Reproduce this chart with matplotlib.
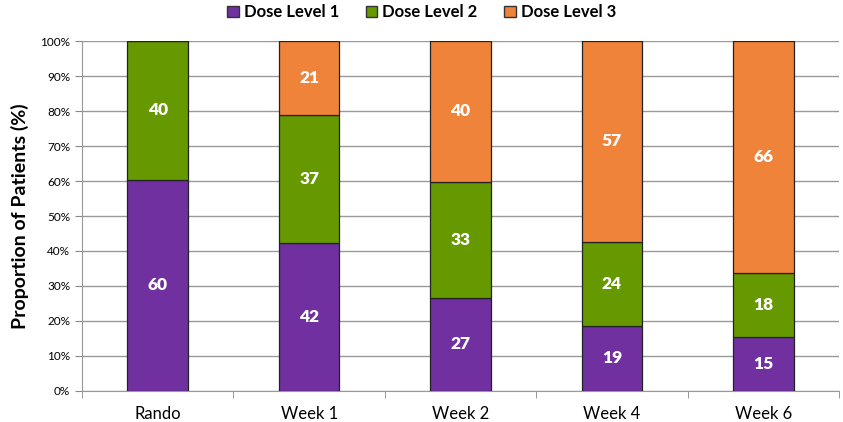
import matplotlib
matplotlib.use("Agg")
import matplotlib.pyplot as plt
import numpy as np
from matplotlib.patches import Patch

categories = ["Rando", "Week 1", "Week 2", "Week 4", "Week 6"]
series_names = ["Dose Level 1", "Dose Level 2", "Dose Level 3"]
dose1 = [60.4, 42.3, 26.6, 18.7, 15.4]
dose2 = [39.6, 36.6, 33.2, 24.0, 18.2]
dose3 = [0.0, 21.1, 40.2, 57.3, 66.4]
labels1 = [60, 42, 27, 19, 15]
labels2 = [40, 37, 33, 24, 18]
labels3 = [None, 21, 40, 57, 66]
colors = ["#7030A0", "#669900", "#F0833A"]

plt.rcParams['font.family'] = ['Lato', 'DejaVu Sans']

fig = plt.figure(figsize=(8.43, 4.22), dpi=100)
ax = fig.add_axes([0.0973, 0.0735, 0.898, 0.8293])

x = np.arange(len(categories))
w = 0.4
bottoms = np.zeros(len(categories))
for vals, labs, c in zip([dose1, dose2, dose3], [labels1, labels2, labels3], colors):
    vals = np.array(vals)
    ax.bar(x, vals, w, bottom=bottoms, color=c, edgecolor="#222222", linewidth=0.9, zorder=3)
    for xi, v, b, lab in zip(x, vals, bottoms, labs):
        if lab is not None and v > 0:
            ax.text(xi, b + v / 2, str(lab), ha="center", va="center", color="white",
                    fontsize=12.5, fontweight="heavy", zorder=4)
    bottoms = bottoms + vals

ax.set_xlim(-0.5, len(categories) - 0.5)
ax.set_ylim(0, 100)
ax.set_yticks(np.arange(0, 101, 10))
ax.set_yticklabels([f"{v}%" for v in range(0, 101, 10)], fontsize=8.5)
ax.set_xticks(x)
ax.set_xticklabels(categories, fontsize=12)
ax.set_xticks(np.arange(-0.5, len(categories), 1), minor=True)
ax.tick_params(axis="x", which="major", length=0, pad=11)
ax.tick_params(axis="x", which="minor", length=5, color="#888888", direction="out")
ax.tick_params(axis="y", length=5, color="#888888", direction="out")
ax.yaxis.grid(True, color="#999999", linewidth=1.0, zorder=0)
ax.set_axisbelow(True)
for s in ["top", "right"]:
    ax.spines[s].set_visible(False)
ax.spines["left"].set_color("#999999")
ax.spines["bottom"].set_color("#999999")
ax.set_ylabel("Proportion of Patients (%)", fontsize=14, fontweight="bold", labelpad=8)

handles = [Patch(facecolor=c, edgecolor="#333333", label=n) for c, n in zip(colors, series_names)]
fig.legend(handles=handles, loc="upper center", bbox_to_anchor=(0.5, 1.025), ncol=3, frameon=False,
           prop={"weight": "bold", "size": 12}, handlelength=0.7, handleheight=0.7,
           handletextpad=0.3, columnspacing=1.6)

fig.savefig("out.png", dpi=100)
